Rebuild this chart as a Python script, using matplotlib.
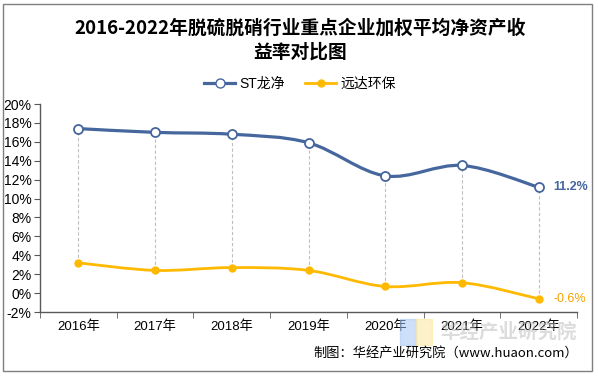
import matplotlib
matplotlib.use("Agg")
import matplotlib.pyplot as plt
from matplotlib.path import Path
from matplotlib.patches import PathPatch, Rectangle
import numpy as np

plt.rcParams['font.family'] = ['Liberation Sans', 'Noto Sans CJK SC', 'DejaVu Sans']

years = ['2016年', '2017年', '2018年', '2019年', '2020年', '2021年', '2022年']
st_longjing = [17.4, 17.0, 16.8, 15.9, 12.4, 13.5, 11.2]
yuanda = [3.2, 2.4, 2.7, 2.4, 0.7, 1.1, -0.6]
series_names = ['ST龙净', '远达环保']

blue = '#46669E'
gold = '#FFB900'
cjk = ['Noto Sans CJK SC', 'DejaVu Sans']


def smooth_path(x, y):
    # catmull-rom style bezier, like excel smoothed lines
    pts = np.column_stack([x, y]).astype(float)
    n = len(pts)
    verts = [pts[0]]
    codes = [Path.MOVETO]
    for i in range(n - 1):
        p0 = pts[i - 1] if i > 0 else pts[i]
        p1 = pts[i]
        p2 = pts[i + 1]
        p3 = pts[i + 2] if i + 2 < n else pts[i + 1]
        c1 = p1 + (p2 - p0) / 6.0
        c2 = p2 - (p3 - p1) / 6.0
        verts += [c1, c2, p2]
        codes += [Path.CURVE4] * 3
    return Path(verts, codes)


fig = plt.figure(figsize=(5.98, 3.77), dpi=100)
ax = fig.add_axes([40 / 598, 65 / 377, 537 / 598, 208 / 377])

x = np.arange(len(years))

# drop lines
for i in x:
    ax.plot([i, i], [yuanda[i], st_longjing[i]], color='#BFBFBF', lw=0.8,
            ls=(0, (3, 2)), zorder=1)

ax.add_patch(PathPatch(smooth_path(x, st_longjing), facecolor='none',
                       edgecolor=blue, lw=2.3, zorder=2))
ax.add_patch(PathPatch(smooth_path(x, yuanda), facecolor='none',
                       edgecolor=gold, lw=2.0, zorder=2))
ax.plot(x, st_longjing, ls='none', marker='o', ms=6.5, mfc='white', mec=blue,
        mew=1.3, zorder=3)
ax.plot(x, yuanda, ls='none', marker='o', ms=5, mfc=gold, mec=gold, zorder=3)

ax.text(x[-1] + 0.19, st_longjing[-1], '%.1f%%' % st_longjing[-1], color=blue,
        fontsize=9, fontweight='bold', va='center', ha='left')
ax.text(x[-1] + 0.19, yuanda[-1], '%.1f%%' % yuanda[-1], color='#F5A300',
        fontsize=9, va='center', ha='left')

ax.set_xlim(-0.5, len(years) - 0.5)
ax.set_ylim(-2, 20)
ax.set_yticks(np.arange(-2, 21, 2))
ax.set_yticklabels(['%d%%' % v for v in np.arange(-2, 21, 2)], fontsize=10)
ax.set_xticks(x)
ax.set_xticklabels(years, fontsize=9.5)
ax.set_xticks(np.arange(-0.5, len(years), 1), minor=True)
ax.tick_params(axis='x', which='major', length=0, pad=6)
ax.tick_params(axis='x', which='minor', length=4, color='#595959', direction='out')
ax.tick_params(axis='y', length=4, color='#595959', pad=2)
for s in ['top', 'right']:
    ax.spines[s].set_visible(False)
for s in ['left', 'bottom']:
    ax.spines[s].set_color('#595959')
    ax.spines[s].set_linewidth(1.0)

# legend
h1, = ax.plot([], [], color=blue, lw=2.3, marker='o', ms=6.5, mfc='white', mec=blue)
h2, = ax.plot([], [], color=gold, lw=2.0, marker='o', ms=5, mfc=gold, mec=gold)
fig.legend([h1, h2], series_names, loc='center', bbox_to_anchor=(300 / 598, 1 - 84 / 377),
           ncol=2, frameon=False, fontsize=10, handlelength=2.2, columnspacing=1.5,
           handletextpad=0.3)

fig.text(300 / 598, 1 - 28 / 377, '2016-2022年脱硫脱硝行业重点企业加权平均净资产收',
         ha='center', va='center', fontsize=13.5, fontweight='bold', family=cjk)
fig.text(300 / 598, 1 - 52 / 377, '益率对比图', ha='center', va='center',
         fontsize=13.5, fontweight='bold', family=cjk)

# watermark
fig.patches.append(Rectangle((400 / 598, 1 - 345 / 377), 16 / 598, 26 / 377,
                             transform=fig.transFigure, color='#9EC3F5', alpha=0.5))
fig.patches.append(Rectangle((416 / 598, 1 - 345 / 377), 16 / 598, 26 / 377,
                             transform=fig.transFigure, color='#FBE9A6', alpha=0.6))
fig.text(440 / 598, 1 - 332 / 377, '华经产业研究院', fontsize=14, color='#BBBBBB',
         alpha=0.5, ha='left', va='center', fontweight='bold', family=cjk, zorder=0)

fig.text(578 / 598, 1 - 353 / 377, '制图：华经产业研究院（www.huaon.com）',
         ha='right', va='center', fontsize=9.5, family=cjk)

fig.patches.append(Rectangle((3 / 598, 1 - 371 / 377), 589 / 598, 367 / 377,
                             transform=fig.transFigure, fill=False,
                             edgecolor='#7F7F7F', lw=1))

fig.savefig('out.png', dpi=100)
